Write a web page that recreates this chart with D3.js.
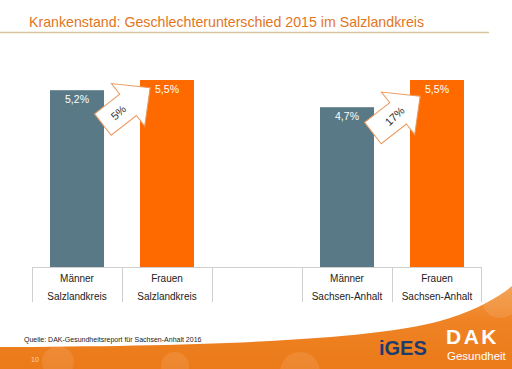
<!DOCTYPE html>
<html>
<head>
<meta charset="utf-8">
<script src="https://cdn.jsdelivr.net/npm/d3@7"></script>
<style>
  body { margin: 0; background: #fff; }
  text { font-family: "Liberation Sans", Arial, sans-serif; }
</style>
</head>
<body>
<script>
var width = 512, height = 369

// data
var groups = ["Männer", "Frauen", "", "Männer", "Frauen"]
var regions = ["Salzlandkreis", "Salzlandkreis", "", "Sachsen-Anhalt", "Sachsen-Anhalt"]
var values = [5.2, 5.5, null, 4.7, 5.5]
var valueLabels = ["5,2%", "5,5%", "", "4,7%", "5,5%"]
var diffFrom = [0, 3]
var diffTo = [1, 4]
var diffLabels = ["5%", "17%"]

var title = "Krankenstand: Geschlechterunterschied 2015 im Salzlandkreis"
var source = "Quelle: DAK-Gesundheitsreport für Sachsen-Anhalt 2016"

var svg = d3.select("body").append("svg")
    .attr("width", width)
    .attr("height", height)

var x = d3.scaleBand()
  .domain(d3.range(groups.length))
  .range([32, 482])
  .paddingInner(0.4)
  .paddingOuter(0.2)

// full cells (no padding) for the label table under the bars
var cell = d3.scaleBand()
  .domain(d3.range(groups.length))
  .range([32, 482])

var y = d3.scaleLinear()
  .domain([0, 6])
  .range([267, 63])

var barColor = function(i) { return groups[i] == "Männer" ? "#597986" : "#ff6a00" }

// title + rule
svg.append("text")
  .attr("x", 29).attr("y", 27)
  .attr("font-size", 14.2)
  .attr("fill", "#e2761e")
  .text(title)

svg.append("line")
  .attr("x1", 0).attr("x2", 489)
  .attr("y1", 32.5).attr("y2", 32.5)
  .attr("stroke", "#d9c59d")
  .attr("stroke-width", 1.5)

// bars
var idx = d3.range(groups.length).filter(function(i) { return values[i] != null })

svg.append("g").selectAll("rect")
  .data(idx)
  .enter().append("rect")
  .attr("x", function(i) { return x(i) })
  .attr("width", x.bandwidth())
  .attr("y", function(i) { return y(values[i]) })
  .attr("height", function(i) { return y(0) - y(values[i]) })
  .attr("fill", function(i) { return barColor(i) })

svg.append("g").selectAll("text")
  .data(idx)
  .enter().append("text")
  .attr("x", function(i) { return x(i) + x.bandwidth() / 2 })
  .attr("y", function(i) { return y(values[i]) + 13 })
  .attr("text-anchor", "middle")
  .attr("font-size", 10.5)
  .attr("fill", "#fff")
  .text(function(i) { return valueLabels[i] })

// table of category labels
var table = svg.append("g")
table.append("line")
  .attr("x1", 32).attr("x2", 482)
  .attr("y1", y(0) + 0.5).attr("y2", y(0) + 0.5)
  .attr("stroke", "#cfcfcf")

table.selectAll("line.v")
  .data(d3.range(groups.length + 1))
  .enter().append("line")
  .attr("class", "v")
  .attr("x1", function(i) { return i < groups.length ? cell(i) + 0.5 : cell(i - 1) + cell.bandwidth() - 0.5 })
  .attr("x2", function(i) { return i < groups.length ? cell(i) + 0.5 : cell(i - 1) + cell.bandwidth() - 0.5 })
  .attr("y1", y(0)).attr("y2", y(0) + 35)
  .attr("stroke", "#cfcfcf")

table.selectAll("text.g")
  .data(d3.range(groups.length))
  .enter().append("text")
  .attr("class", "g")
  .attr("x", function(i) { return cell(i) + cell.bandwidth() / 2 })
  .attr("y", y(0) + 15)
  .attr("text-anchor", "middle")
  .attr("font-size", 10)
  .attr("fill", "#222")
  .text(function(i) { return groups[i] })

table.selectAll("text.r")
  .data(d3.range(groups.length))
  .enter().append("text")
  .attr("class", "r")
  .attr("x", function(i) { return cell(i) + cell.bandwidth() / 2 })
  .attr("y", y(0) + 33)
  .attr("text-anchor", "middle")
  .attr("font-size", 10)
  .attr("fill", "#222")
  .text(function(i) { return regions[i] })

// block arrows showing the gender difference
var L = 60, sw = 27, hw = 54, hl = 28
var arrowPts = [[-L/2, -sw/2], [L/2 - hl, -sw/2], [L/2 - hl, -hw/2], [L/2, 0],
                [L/2 - hl, hw/2], [L/2 - hl, sw/2], [-L/2, sw/2]]

diffLabels.forEach(function(lab, k) {
  var a = diffFrom[k], b = diffTo[k]
  var ya = y(values[a]), yb = y(values[b])
  var cx = (x(a) + x.bandwidth() + x(b)) / 2 + 4.5
  var cy = (ya + yb) / 2 + 21
  var g = svg.append("g")
    .attr("transform", "translate(" + cx + "," + cy + ") rotate(-38)")
  g.append("polygon")
    .attr("points", arrowPts.map(function(p) { return p.join(",") }).join(" "))
    .attr("fill", "#fff")
    .attr("stroke", "#eb9a5e")
    .attr("stroke-width", 1)
  g.append("text")
    .attr("transform", "translate(" + (k == 0 ? -10 : -2) + ",4) rotate(-5)")
    .attr("text-anchor", "middle")
    .attr("font-size", 11)
    .attr("fill", "#333")
    .text(lab)
})

// footer
svg.append("text")
  .attr("x", 24).attr("y", 342)
  .attr("font-size", 7)
  .attr("fill", "#222")
  .text(source)

var defs = svg.append("defs")
var grad = defs.append("linearGradient")
  .attr("id", "og").attr("x1", 0).attr("y1", 0).attr("x2", 0).attr("y2", 1)
grad.append("stop").attr("offset", "0%").attr("stop-color", "#f29a44")
grad.append("stop").attr("offset", "40%").attr("stop-color", "#ef8325")
grad.append("stop").attr("offset", "100%").attr("stop-color", "#eb7a18")

var swoosh = "M0,347 C200,346 380,341 450,318 C480,308 500,296 512,286 L512,369 L0,369 Z"
defs.append("clipPath").attr("id", "sw").append("path").attr("d", swoosh)

svg.append("path").attr("d", swoosh).attr("fill", "url(#og)")

var spots = svg.append("g").attr("clip-path", "url(#sw)")
spots.selectAll("circle")
  .data([[58, 362, 16], [175, 366, 14], [500, 300, 18], [300, 372, 20]])
  .enter().append("circle")
  .attr("cx", function(d) { return d[0] })
  .attr("cy", function(d) { return d[1] })
  .attr("r", function(d) { return d[2] })
  .attr("fill", "#fff")
  .attr("opacity", 0.1)

svg.append("text")
  .attr("x", 31).attr("y", 362)
  .attr("font-size", 7)
  .attr("fill", "#fcd2a6")
  .text("10")

svg.append("text")
  .attr("x", 379).attr("y", 355)
  .attr("font-size", 20)
  .attr("font-weight", "bold")
  .attr("fill", "#1d3b6c")
  .text("iGES")

svg.append("text")
  .attr("x", 446).attr("y", 344)
  .attr("font-size", 21)
  .attr("font-weight", "bold")
  .attr("letter-spacing", 2.5)
  .attr("fill", "#fff")
  .text("DAK")

svg.append("text")
  .attr("x", 447).attr("y", 360)
  .attr("font-size", 11.5)
  .attr("fill", "#fff")
  .text("Gesundheit")
</script>
</body>
</html>
